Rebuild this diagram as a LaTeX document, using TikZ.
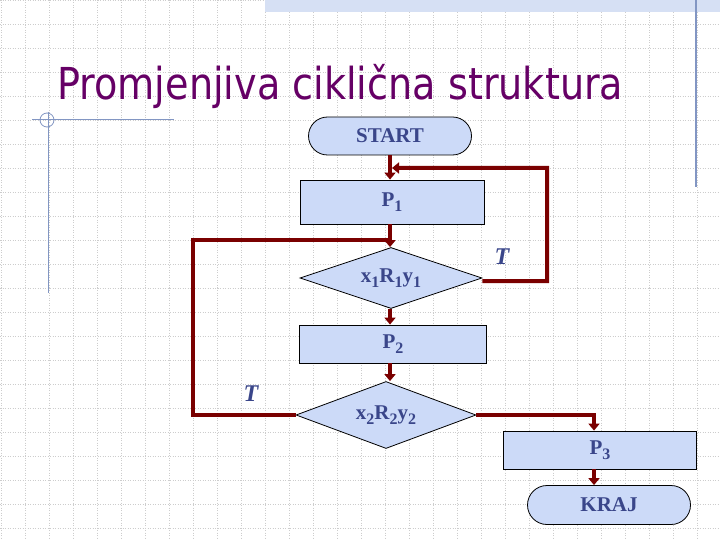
\documentclass[tikz,border=0pt]{standalone}
\usepackage{fontspec}
\usepackage{graphicx}
\setmainfont{Liberation Serif}
\newfontfamily\titlefont{DejaVu Sans}
\usetikzlibrary{shapes.geometric,shapes.misc,arrows.meta}
\definecolor{titlepurple}{RGB}{102,0,102}
\definecolor{boxfill}{RGB}{204,218,248}
\definecolor{boxtext}{RGB}{58,70,138}
\definecolor{flowred}{RGB}{122,0,0}
\definecolor{gridgray}{RGB}{205,205,205}
\definecolor{decoblue}{RGB}{130,150,195}
\definecolor{bandblue}{RGB}{214,224,244}
\newcommand{\sbs}[1]{\raisebox{-5bp}{\fontsize{16bp}{18bp}\selectfont #1}}
\tikzset{
  base/.style={draw=black,line width=0.8bp,fill=boxfill,text=boxtext,font=\bfseries\fontsize{21bp}{24bp}\selectfont,inner sep=0pt},
  term/.style={base,rounded rectangle},
  proc/.style={base,rectangle},
  cond/.style={base,diamond,shape aspect=3},
  flow/.style={draw=flowred,line width=4bp,line join=miter},
  flowarrow/.style={flow,-{Triangle[length=7bp,width=11bp]}},
  lab/.style={text=boxtext,font=\bfseries\itshape\fontsize{24bp}{28bp}\selectfont}
}
\begin{document}
\begin{tikzpicture}[x=1bp,y=-1bp]
\useasboundingbox (0,0) rectangle (720,540);
\fill[white] (0,0) rectangle (720,540);
% grid
\foreach \gx in {1,25,...,720} \draw[gridgray,line width=0.7bp,dash pattern=on 1bp off 1.5bp] (\gx,0) -- (\gx,540);
\foreach \gy in {0,24,...,540} \draw[gridgray,line width=0.7bp,dash pattern=on 1bp off 1.5bp] (0,\gy) -- (720,\gy);
% top band
\fill[bandblue] (265,0) rectangle (720,12);
\draw[decoblue,line width=1.2bp] (696,0) -- (696,187);
% left decoration
\draw[decoblue,line width=1bp] (32,120) -- (174,120);
\draw[decoblue,line width=1bp] (48,112) -- (48,293);
\draw[decoblue,line width=0.8bp] (47,120) circle (7);
% title
\node[anchor=base west,text=titlepurple,inner sep=0pt] (title) at (57,100)
  {\resizebox{566bp}{\height}{\titlefont\fontsize{44bp}{50bp}\selectfont Promjenjiva ciklična struktura}};
% nodes
\node[term,minimum width=163bp,minimum height=38bp] (start) at (390,136) {START};
\node[proc,minimum width=184bp,minimum height=44bp] (p1) at (392,202) {P\sbs{1}};
\node[cond,minimum width=182bp,minimum height=61bp] (d1) at (391,278) {\raisebox{-4bp}{x\sbs{1}R\sbs{1}y\sbs{1}}};
\node[proc,minimum width=187bp,minimum height=38bp] (p2) at (393,344) {P\sbs{2}};
\node[cond,minimum width=180bp,minimum height=67bp] (d2) at (386,415) {x\sbs{2}R\sbs{2}y\sbs{2}};
\node[proc,minimum width=193bp,minimum height=38bp] (p3) at (600,450) {P\sbs{3}};
\node[term,minimum width=163bp,minimum height=39bp] (kraj) at (609,505) {KRAJ};
\node[lab] (t1) at (502,257) {T};
\node[lab] (t2) at (251,394) {T};
% junctions
\coordinate (j1) at (390,168);
\coordinate (j2) at (390,240);
\coordinate (r1) at (547,281);
\coordinate (r2) at (547,168);
\coordinate (l1) at (193,417);
\coordinate (l2) at (193,240);
\coordinate (b1) at (594,412);
% connectors
\draw[flowarrow] (start.south -| j1) -- (p1.north -| j1);
\draw[flowarrow] (p1.south -| j2) -- (d1.north -| j2);
\draw[flowarrow] (d1.south -| j2) -- (p2.north -| j2);
\draw[flowarrow] (p2.south -| j2) -- (d2.north -| j2);
\draw[flowarrow] ([yshift=-3bp]d1.east) -- (r1) -- (r2) -- ([xshift=2bp]j1);
\draw[flow] (d2.west) -- (d2.west -| l1) -- (l2) -- (j2);
\draw[flowarrow] (d2.east) -| (b1 |- p3.north);
\draw[flowarrow] (b1 |- p3.south) -- (b1 |- kraj.north);
\end{tikzpicture}
\end{document}
